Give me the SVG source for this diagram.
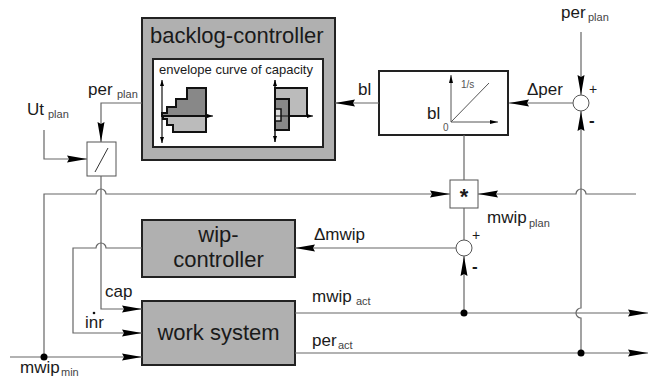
<svg xmlns="http://www.w3.org/2000/svg" width="655" height="381" viewBox="0 0 655 381">
<style>
text{font-family:"Liberation Sans",Arial,sans-serif;fill:#1a1a1a}
.lbl{font-size:17px}
.sub{font-size:11px;fill:#444}
.big{font-size:22px}
.small{font-size:10px;fill:#555}
.conn{fill:none;stroke:#666;stroke-width:1.2}
.box{fill:#b0b0b0;stroke:#222;stroke-width:2}
.thin{fill:#fff;stroke:#555;stroke-width:1}
</style>
<defs>
<marker id="ar" viewBox="0 0 20 8" markerWidth="20" markerHeight="8" refX="20" refY="4" orient="auto" markerUnits="userSpaceOnUse">
<path d="M0,0.5 L20,4 L0,7.5 L2,4 z" fill="#000"/>
</marker>
<marker id="sa" viewBox="0 0 8 4" markerWidth="8" markerHeight="4" refX="8" refY="2" orient="auto" markerUnits="userSpaceOnUse">
<path d="M0,0 L8,2 L0,4 z" fill="#000"/>
</marker>
<marker id="ta" viewBox="0 0 6 4" markerWidth="6" markerHeight="4" refX="6" refY="2" orient="auto-start-reverse" markerUnits="userSpaceOnUse">
<path d="M0,0 L6,2 L0,4 z" fill="#000"/>
</marker>
</defs>

<g id="backlog-controller">
<rect x="142" y="18" width="193" height="142" class="box" fill="#aaa"/>
<text x="150" y="43" class="big">backlog-controller</text>
<rect x="153" y="59" width="170" height="88" fill="#fff" stroke="#222" stroke-width="2"/>
<text x="159" y="74" style="font-size:13px">envelope curve of capacity</text>
<polygon points="206,116 206,88 187,88 187,99 176,99 176,107 167,107 167,113 162,113 162,116" fill="#888" stroke="#111" stroke-width="2"/>
<polygon points="206,116 206,132 173,132 173,125 167,125 167,119 163,119 163,116" fill="#bbb" stroke="#111" stroke-width="2"/>
<line x1="162" y1="80" x2="162" y2="143" stroke="#111" stroke-width="1.2" marker-start="url(#ta)" marker-end="url(#ta)"/>
<line x1="162" y1="116" x2="213" y2="116" stroke="#111" stroke-width="1.2" marker-end="url(#ta)"/>
<rect x="275" y="88" width="32" height="28" fill="#bbb" stroke="#111" stroke-width="2"/>
<rect x="275" y="99" width="14" height="31" fill="#888" stroke="#111" stroke-width="2"/>
<rect x="275" y="109" width="6" height="12" fill="#ddd" stroke="#111" stroke-width="1.5"/>
<line x1="275" y1="80" x2="275" y2="142" stroke="#111" stroke-width="1.5" marker-start="url(#ta)" marker-end="url(#ta)"/>
<line x1="275" y1="116" x2="313" y2="116" stroke="#111" stroke-width="1.2" marker-end="url(#ta)"/>
</g>

<g id="integrator">
<rect x="379" y="71" width="129" height="64" fill="#fff" stroke="#222" stroke-width="2"/>
<line x1="451" y1="122" x2="451" y2="75" stroke="#555" stroke-width="1" marker-end="url(#sa)"/>
<line x1="451" y1="122" x2="498" y2="122" stroke="#555" stroke-width="1" marker-end="url(#sa)"/>
<line x1="451" y1="122" x2="489" y2="83" stroke="#555" stroke-width="1"/>
<text x="461" y="88" class="small">1/s</text>
<text x="427" y="119" class="lbl">bl</text>
<text x="443" y="131" class="small">0</text>
</g>

<g id="sum-per">
<circle cx="581" cy="103" r="8" class="thin"/>
<text x="589" y="94" style="font-size:14px">+</text>
<text x="589" y="126" style="font-size:17px;font-weight:bold">-</text>
</g>

<g id="divider">
<rect x="87" y="142" width="29" height="34" class="thin"/>
<line x1="95" y1="172" x2="108" y2="148" stroke="#333" stroke-width="1"/>
</g>

<g id="multiplier">
<rect x="450" y="180" width="28" height="28" class="thin"/>
<text x="464" y="204" text-anchor="middle" style="font-size:22px;font-weight:bold">*</text>
</g>

<g id="sum-wip">
<circle cx="464" cy="248" r="8" class="thin"/>
<text x="472" y="240" style="font-size:14px">+</text>
<text x="472" y="272" style="font-size:17px;font-weight:bold">-</text>
</g>

<g id="wip-controller">
<rect x="142" y="220" width="153" height="57" class="box"/>
<text x="218.5" y="242" text-anchor="middle" class="big">wip-</text>
<text x="218.5" y="267" text-anchor="middle" class="big">controller</text>
</g>

<g id="work-system">
<rect x="142" y="301" width="153" height="64" class="box"/>
<text x="218.5" y="340" text-anchor="middle" class="big">work system</text>
</g>

<g id="connectors">
<path class="conn" d="M581,32 L581,95" marker-end="url(#ar)"/>
<path class="conn" d="M581,353 L581,318 A5,5 0 0 1 581,308 L581,111" marker-end="url(#ar)"/>
<path class="conn" d="M573,103 L509,103" marker-end="url(#ar)"/>
<path class="conn" d="M379,103 L335,103" marker-end="url(#ar)"/>
<path class="conn" d="M464,135 L464,180"/>
<path class="conn" d="M636,194 L586,194 A5,5 0 0 0 576,194 L478,194" marker-end="url(#ar)"/>
<path class="conn" d="M44,357 L44,194 L96,194 A5,5 0 0 1 106,194 L450,194" marker-end="url(#ar)"/>
<path class="conn" d="M142,103 L101,103 L101,142" marker-end="url(#ar)"/>
<path class="conn" d="M44,130 L44,159 L87,159" marker-end="url(#ar)"/>
<path class="conn" d="M101,176 L101,309 L142,309" marker-end="url(#ar)"/>
<path class="conn" d="M142,248 L106,248 A5,5 0 0 0 96,248 L73,248 L73,333 L142,333" marker-end="url(#ar)"/>
<path class="conn" d="M10,357 L142,357" marker-end="url(#ar)"/>
<path class="conn" d="M464,208 L464,240"/>
<path class="conn" d="M464,313 L464,256" marker-end="url(#ar)"/>
<path class="conn" d="M456,248 L295,248" marker-end="url(#ar)"/>
<path class="conn" d="M295,313 L648,313" marker-end="url(#ar)"/>
<path class="conn" d="M295,353 L648,353" marker-end="url(#ar)"/>
<circle cx="44" cy="357" r="3.5" fill="#000"/>
<circle cx="464" cy="313" r="3.5" fill="#000"/>
<circle cx="581" cy="353" r="3.5" fill="#000"/>
</g>

<g id="labels">
<text x="561" y="18" class="lbl">per</text><text x="588" y="21" class="sub">plan</text>
<text x="527" y="95" class="lbl">Δper</text>
<text x="358" y="95" class="lbl">bl</text>
<text x="88" y="95" class="lbl">per</text><text x="117" y="98" class="sub">plan</text>
<text x="27" y="115" class="lbl">Ut</text><text x="48" y="118" class="sub">plan</text>
<text x="487" y="223" class="lbl">mwip</text><text x="529" y="227" class="sub">plan</text>
<text x="314" y="240" class="lbl">Δmwip</text>
<text x="105" y="297" class="lbl">cap</text>
<text x="85" y="328" class="lbl">inr</text>
<circle cx="94" cy="313" r="1.3" fill="#111"/>
<text x="312" y="302" class="lbl">mwip</text><text x="356" y="305" class="sub">act</text>
<text x="312" y="346" class="lbl">per</text><text x="338" y="349" class="sub">act</text>
<text x="20" y="373" class="lbl">mwip</text><text x="61" y="376" class="sub">min</text>
</g>
</svg>
